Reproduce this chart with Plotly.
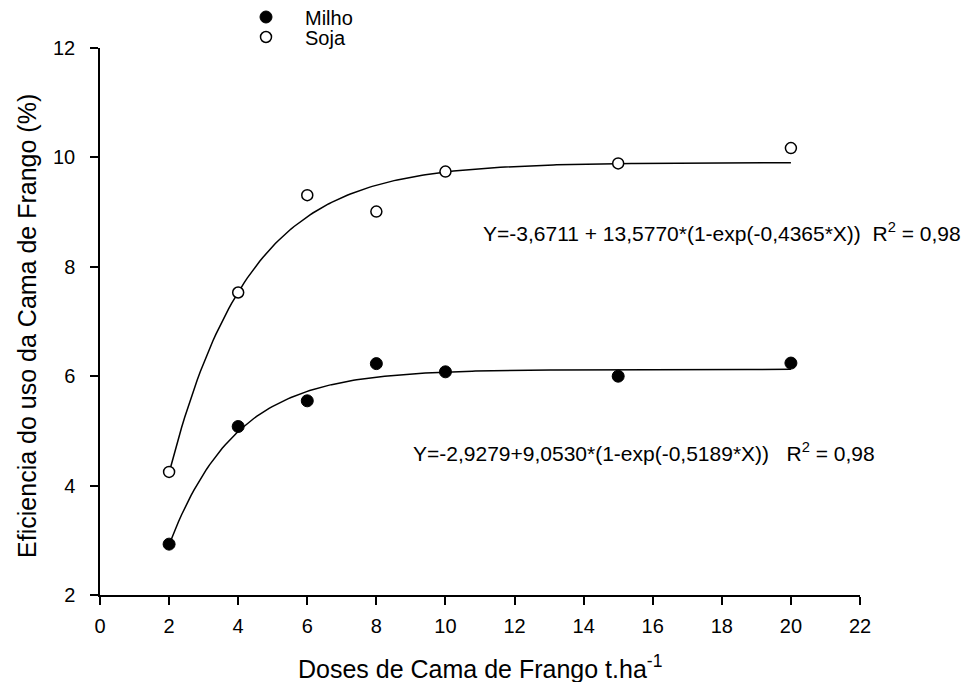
import numpy as np
import plotly.graph_objects as go

doses = [2, 4, 6, 8, 10, 15, 20]
milho = [2.93, 5.08, 5.55, 6.23, 6.08, 6.00, 6.24]
soja = [4.25, 7.53, 9.31, 9.01, 9.74, 9.89, 10.17]

# fitted model parameters (as printed on the chart)
milho_fit = (-2.9279, 9.0530, 0.5189)
soja_fit = (-3.6711, 13.5770, 0.4365)

x_ticks = list(range(0, 23, 2))
y_ticks = [2, 4, 6, 8, 10, 12]

FONT = "Liberation Sans, Arial, sans-serif"
W, H = 955, 674  # page body has an 8px margin

xc = np.linspace(2, 20, 200)
def model(p, x):
    a, b, c = p
    return a + b * (1 - np.exp(-c * x))

fig = go.Figure()
fig.add_trace(go.Scatter(x=xc, y=model(soja_fit, xc), mode="lines",
                         line=dict(color="black", width=1.5), showlegend=False, hoverinfo="skip"))
fig.add_trace(go.Scatter(x=xc, y=model(milho_fit, xc), mode="lines",
                         line=dict(color="black", width=1.5), showlegend=False, hoverinfo="skip"))
fig.add_trace(go.Scatter(x=doses, y=milho, mode="markers", name="Milho", legend="legend",
                         marker=dict(symbol="circle", size=12, color="black",
                                     line=dict(color="black", width=1))))
fig.add_trace(go.Scatter(x=doses, y=soja, mode="markers", name="Soja", legend="legend2",
                         marker=dict(symbol="circle", size=11, color="white",
                                     line=dict(color="black", width=1.5))))

ann_font = dict(size=21, color="black", family=FONT)
fig.add_annotation(x=1.136, xref="paper", xanchor="right", y=8.64, yref="y", yanchor="middle",
                   text="Y=-3,6711 + 13,5770*(1-exp(-0,4365*X))&nbsp;&nbsp;R<sup>2</sup> = 0,98",
                   showarrow=False, font=ann_font)
fig.add_annotation(x=1.023, xref="paper", xanchor="right", y=4.61, yref="y", yanchor="middle",
                   text="Y=-2,9279+9,0530*(1-exp(-0,5189*X))&nbsp;&nbsp;&nbsp;R<sup>2</sup> = 0,98",
                   showarrow=False, font=ann_font)

# axis titles
fig.add_annotation(x=0.5, xref="paper", xanchor="center", y=-72 / 547, yref="paper",
                   yanchor="middle", text="Doses de Cama de Frango t.ha<sup>-1</sup>",
                   showarrow=False, font=dict(size=25, color="black", family=FONT))
fig.add_annotation(x=-73 / 760, xref="paper", xanchor="center", y=0.492, yref="paper",
                   yanchor="middle", textangle=-90,
                   text="Eficiencia do uso da Cama de Frango (%)",
                   showarrow=False, font=dict(size=25, color="black", family=FONT))

axis_common = dict(showline=True, linecolor="black", linewidth=1.5, ticks="outside",
                   ticklen=8, tickwidth=1.5, tickcolor="black", showgrid=False,
                   zeroline=False, automargin=False,
                   tickfont=dict(size=20, color="black", family=FONT))

leg_common = dict(xref="container", yref="container", xanchor="left", yanchor="middle",
                  bgcolor="rgba(0,0,0,0)", itemwidth=68,
                  font=dict(size=20, family=FONT, color="black"))

fig.update_layout(
    width=W, height=H,
    margin=dict(l=92, r=103, t=40, b=87, autoexpand=False),
    paper_bgcolor="white", plot_bgcolor="white",
    font=dict(family=FONT, color="black"),
    xaxis=dict(range=[0, 22], tickvals=x_ticks, ticklabelstandoff=4, **axis_common),
    yaxis=dict(range=[2, 12], tickvals=y_ticks, ticklabelstandoff=11, **axis_common),
    legend=dict(x=219 / W, y=1 - 9 / H, **leg_common),
    legend2=dict(x=219 / W, y=1 - 29 / H, **leg_common),
)

fig.write_html("out.html")
